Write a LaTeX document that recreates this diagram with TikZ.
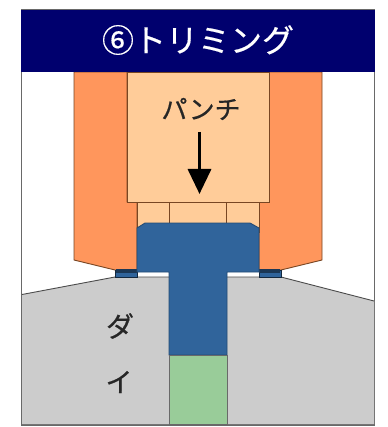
\documentclass[tikz,border=0pt]{standalone}
\usepackage{fontspec}
\newfontfamily\cjk[FakeBold=0.5]{Noto Sans CJK JP}
\usetikzlibrary{arrows.meta}
\definecolor{navyhead}{RGB}{0,0,110}
\definecolor{orangeside}{RGB}{255,150,92}
\definecolor{punchface}{RGB}{255,204,153}
\definecolor{workblue}{RGB}{48,100,155}
\definecolor{dieside}{RGB}{204,204,204}
\definecolor{greenpart}{RGB}{153,204,153}
\definecolor{edgebrown}{RGB}{120,70,35}
\definecolor{edgegrey}{RGB}{105,105,105}
\tikzset{
  brownedge/.style={draw=edgebrown,line width=0.9pt,line join=miter},
  blueedge/.style={draw=workblue!75!black,line width=0.9pt},
  greyedge/.style={draw=edgegrey,line width=0.9pt},
  jp/.style={font=\cjk,inner sep=0pt},
}
\begin{document}
\begin{tikzpicture}[x=1pt,y=-1pt]
\useasboundingbox (0,0) rectangle (387,427);
\fill[white] (0,0) rectangle (387,427);
% frame
\draw[greyedge,line width=1.1pt] (21.5,10) rectangle (374.5,425);
% die
\fill[dieside] (22,294.5) -- (115,277) -- (169,277) -- (169,424) -- (22,424) -- cycle;
\fill[dieside] (227,277) -- (281,277) -- (374,301) -- (374,424) -- (227,424) -- cycle;
\draw[greyedge,draw=black!70] (22,294.5) -- (115,277) -- (169,277);
\draw[greyedge,draw=black!70] (227,277) -- (281,277) -- (374,301);
% side holders
\path[fill=orangeside,brownedge] (74,72) -- (74,260) -- (115,270) -- (137,270) -- (137,202) -- (127,202) -- (127,72) -- cycle;
\path[fill=orangeside,brownedge] (322,72) -- (322,260) -- (281,270) -- (259,270) -- (259,202) -- (269,202) -- (269,72) -- cycle;
% stripper pins
\path[fill=punchface,brownedge] (137,202) rectangle (259,232);
\draw[brownedge] (169,202) -- (169,224) (226.5,202) -- (226.5,224);
% punch
\path[fill=punchface,brownedge] (127,72) rectangle (269,202);
% scrap
\path[fill=workblue,draw=black!60!workblue,line width=0.9pt] (115,270) rectangle (137,277);
\path[fill=workblue,draw=black!60!workblue,line width=0.9pt] (259,270) rectangle (281,277);
\fill[black!45!workblue] (116,268.5) rectangle (137,272.5);
\fill[black!45!workblue] (259,268.5) rectangle (280,272.5);
% work
\path[fill=workblue,blueedge] (137,228) -- (145,223) -- (250,223) -- (259,228) -- (259,272) -- (227,272) -- (227,355) -- (169,355) -- (169,272) -- (137,272) -- cycle;
% green part
\path[fill=greenpart,draw=edgegrey,line width=0.9pt] (169,355) rectangle (227,424.5);
% header
\fill[navyhead] (21,10) rectangle (375,72);
\node[jp,text=white,font=\cjk\fontsize{32}{32}\selectfont] (title) at (198,40) {⑥トリミング};
% labels
\node[jp,text=black!85,font=\cjk\fontsize{26}{26}\selectfont] (punchlabel) at (201,109) {パンチ};
\node[jp,text=black!85,font=\cjk\fontsize{28}{28}\selectfont] (da) at (120,326) {ダ};
\node[jp,text=black!85,font=\cjk\fontsize{27}{27}\selectfont] (i) at (119,382) {イ};
% arrow
\coordinate (arrowtop) at (199.5,132);
\coordinate (arrowtip) at (199.5,194);
\draw[line width=3.4pt,-{Triangle[width=23pt,length=25pt]}] (arrowtop) -- (arrowtip);
\end{tikzpicture}
\end{document}
